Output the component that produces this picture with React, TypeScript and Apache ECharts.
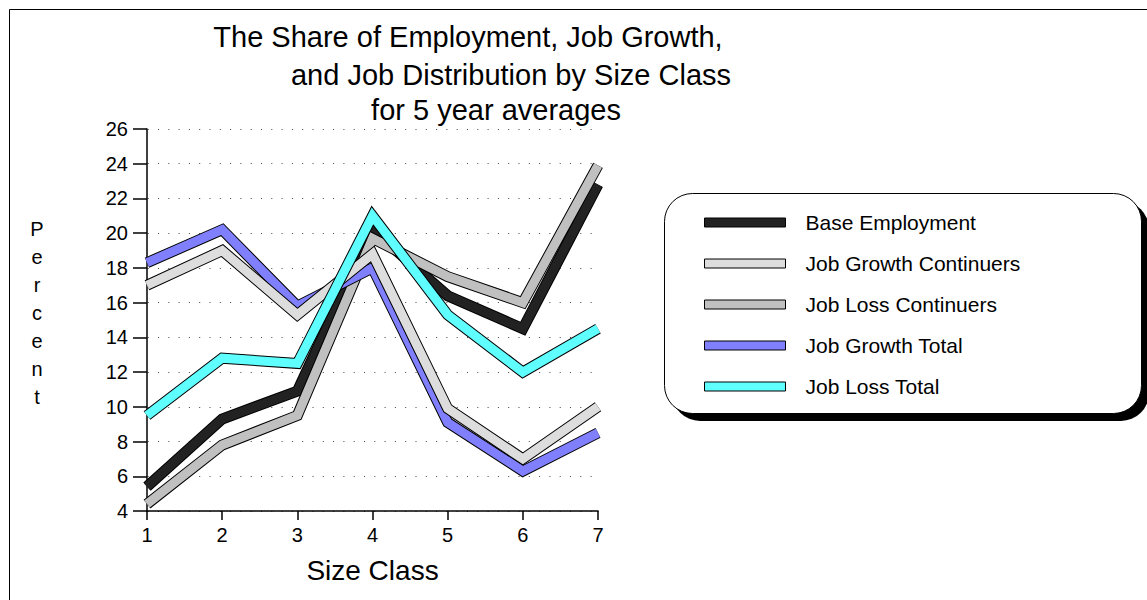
import React, { useEffect, useRef } from "react";
import * as echarts from "echarts";

const categories = ["1", "2", "3", "4", "5", "6", "7"];
const seriesNames = [
  "Base Employment",
  "Job Growth Continuers",
  "Job Loss Continuers",
  "Job Growth Total",
  "Job Loss Total",
];
const baseEmployment = [5.4, 9.3, 10.9, 20.2, 16.4, 14.5, 22.8];
const jobGrowthContinuers = [17.0, 19.0, 15.3, 18.8, 9.9, 7.0, 10.0];
const jobLossContinuers = [4.4, 7.8, 9.5, 19.7, 17.5, 16.0, 23.9];
const jobGrowthTotal = [18.3, 20.2, 15.8, 18.0, 9.1, 6.3, 8.5];
const jobLossTotal = [9.5, 12.8, 12.5, 21.0, 15.3, 12.0, 14.5];
const seriesColors = ["#222222", "#dddddd", "#c0c0c0", "#8080ff", "#60ffff"];
const titleLines = [
  "The Share of Employment, Job Growth,",
  "and Job Distribution by Size Class",
  "for 5 year averages",
];
const yAxisTitle = "Percent";
const xAxisTitle = "Size Class";

const FONT = "'Liberation Sans', Arial, Helvetica, sans-serif";

export default function App() {
  const ref = useRef<HTMLDivElement>(null);

  useEffect(() => {
    if (!ref.current) return;
    const chart = echarts.init(ref.current, null, { renderer: "svg" });
    const dataSets = [
      baseEmployment,
      jobGrowthContinuers,
      jobLossContinuers,
      jobGrowthTotal,
      jobLossTotal,
    ];
    // drawing order (back to front)
    const drawOrder = [0, 2, 3, 1, 4];
    const series: any[] = [];
    drawOrder.forEach((i) => {
      series.push({
        name: seriesNames[i] + " outline",
        type: "line",
        data: dataSets[i],
        symbol: "none",
        silent: true,
        itemStyle: { color: "#000" },
        lineStyle: { color: "#000", width: 11, cap: "butt", join: "miter", miterLimit: 2 },
      });
      series.push({
        name: seriesNames[i],
        type: "line",
        data: dataSets[i],
        symbol: "none",
        silent: true,
        itemStyle: { color: seriesColors[i] },
        lineStyle: { color: seriesColors[i], width: 9, cap: "butt", join: "miter", miterLimit: 2 },
      });
    });

    const option: any = {
      animation: false,
      backgroundColor: "#ffffff",
      textStyle: { fontFamily: FONT },
      grid: { left: 147, top: 129, width: 451, height: 382, containLabel: false },
      xAxis: {
        type: "category",
        data: categories,
        boundaryGap: false,
        name: xAxisTitle,
        nameLocation: "middle",
        nameGap: 45,
        nameTextStyle: { fontSize: 28, color: "#000", fontFamily: FONT },
        axisLine: { lineStyle: { color: "#000", width: 1.5 } },
        axisTick: { show: true, length: 9, inside: false, lineStyle: { color: "#000", width: 1.5 } },
        axisLabel: { color: "#000", fontSize: 20, margin: 14, fontFamily: FONT },
        splitLine: { show: false },
      },
      yAxis: {
        type: "value",
        min: 4,
        max: 26,
        interval: 2,
        axisLine: { show: true, lineStyle: { color: "#000", width: 1.5 } },
        axisTick: { show: true, length: 14, lineStyle: { color: "#000", width: 1.5 } },
        axisLabel: { color: "#000", fontSize: 20, margin: 19, fontFamily: FONT },
        splitLine: { show: true, lineStyle: { color: "#444", width: 1, type: [1, 9.3], dashOffset: -11 } },
      },
      legend: {
        data: seriesNames,
        orient: "vertical",
        left: 704,
        top: 210,
        padding: 0,
        icon: "rect",
        itemWidth: 81,
        itemHeight: 9,
        itemGap: 16,
        itemStyle: { borderColor: "#000", borderWidth: 1 },
        textStyle: { color: "#000", fontSize: 21, fontFamily: FONT, lineHeight: 22, height: 22, padding: [3, 0, 0, 15] },
        selectedMode: false,
      },
      graphic: [
        {
          type: "rect",
          silent: true,
          z: -10,
          shape: { x: 9.5, y: 9.5, width: 1300, height: 800 },
          style: { fill: "none", stroke: "#000", lineWidth: 1 },
        },
        {
          type: "rect",
          silent: true,
          z: -5,
          shape: { x: 672, y: 201, width: 477, height: 220, r: 28 },
          style: { fill: "#000" },
        },
        {
          type: "rect",
          silent: true,
          z: -4,
          shape: { x: 664.5, y: 193.5, width: 477, height: 220, r: 28 },
          style: { fill: "#fff", stroke: "#000", lineWidth: 1 },
        },
        {
          type: "text",
          silent: true,
          x: 468,
          y: 37,
          style: { text: titleLines[0], fill: "#000", fontSize: 29, fontFamily: FONT, textAlign: "center", textVerticalAlign: "middle" },
        },
        {
          type: "text",
          silent: true,
          x: 511,
          y: 75,
          style: { text: titleLines[1], fill: "#000", fontSize: 29, fontFamily: FONT, textAlign: "center", textVerticalAlign: "middle" },
        },
        {
          type: "text",
          silent: true,
          x: 496,
          y: 110,
          style: { text: titleLines[2], fill: "#000", fontSize: 29, fontFamily: FONT, textAlign: "center", textVerticalAlign: "middle" },
        },
        {
          type: "text",
          silent: true,
          x: 37,
          y: 215,
          style: {
            text: yAxisTitle.split("").join("\n"),
            fill: "#000",
            fontSize: 20,
            lineHeight: 28,
            fontFamily: FONT,
            textAlign: "center",
            textVerticalAlign: "top",
          },
        },
      ],
      series,
    };
    chart.setOption(option);
    return () => chart.dispose();
  }, []);

  return (
    <div
      ref={ref}
      style={{ position: "absolute", left: 0, top: 0, width: 1147, height: 600 }}
    />
  );
}
